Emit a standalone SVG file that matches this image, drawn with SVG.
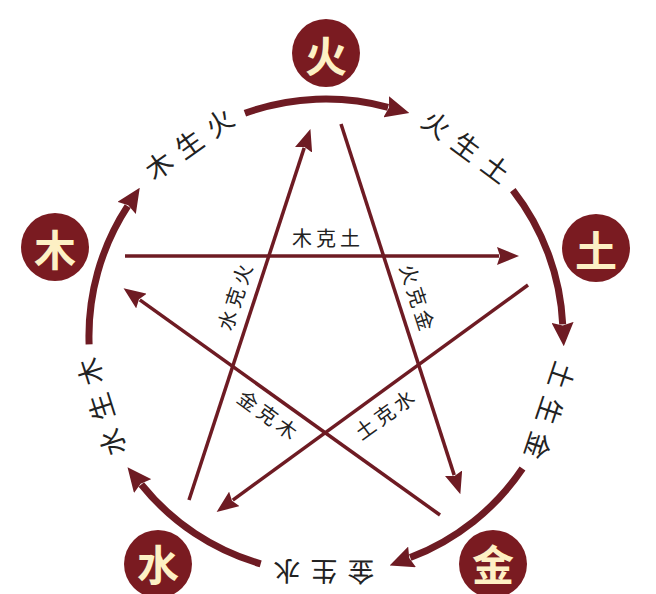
<svg xmlns="http://www.w3.org/2000/svg" width="656" height="594" viewBox="0 0 656 594">
<style>
.node circle{fill:#7a1b21}
.node text{fill:#fdf0c4;font-family:"Noto Sans CJK SC","Noto Sans CJK JP",sans-serif;font-weight:700;font-size:42px;text-anchor:middle;dominant-baseline:central}
.ring{fill:none;stroke:#6e1b23;stroke-width:7;marker-end:url(#bigArrow)}
.star{fill:none;stroke:#6e1b23;stroke-width:3.5;marker-end:url(#smallArrow)}
.lbl{fill:#222;font-family:"Noto Sans CJK SC","Noto Sans CJK JP",sans-serif;text-anchor:middle;dominant-baseline:central}
.rl{font-size:27px;letter-spacing:10px}
.sl{font-size:20px;letter-spacing:4px}
</style>
<defs>
<marker id="bigArrow" markerUnits="userSpaceOnUse" viewBox="0 0 24 22" markerWidth="24" markerHeight="22" refX="2" refY="11" orient="auto">
<path d="M0,0 L24,11 L0,22 L3,11 z" fill="#6e1b23"/>
</marker>
<marker id="smallArrow" markerUnits="userSpaceOnUse" viewBox="0 0 22 18" markerWidth="22" markerHeight="18" refX="2" refY="9" orient="auto">
<path d="M0,0 L22,9 L0,18 L3,9 z" fill="#6e1b23"/>
</marker>
</defs>
<rect width="656" height="594" fill="#ffffff"/>
<g id="connectors">
<path class="ring" d="M89.1,344.3 A237,237 0 0 1 127.7,206.2"/>
<path class="ring" d="M244.9,113.3 A237,237 0 0 1 388.1,107.3"/>
<path class="ring" d="M512.8,190.1 A237,237 0 0 1 562.7,324.4"/>
<path class="ring" d="M522.5,468.5 A237,237 0 0 1 410.2,557.6"/>
<path class="ring" d="M260.7,563.8 A237,237 0 0 1 141.3,484.5"/>
<path class="star" d="M125,256 L499,256"/>
<path class="star" d="M189,500 L304.2,147.9"/>
<path class="star" d="M341,124 L454.2,475.1"/>
<path class="star" d="M440,515 L139.8,299.9"/>
<path class="star" d="M528,285 L232.8,500.1"/>
</g>
<g id="ring-labels">
<text class="lbl rl" dx="5" transform="translate(188.4,143.1) rotate(-35.5)">木生火</text>
<text class="lbl rl" dx="5" transform="translate(467,145.5) rotate(36.5)">火生土</text>
<text class="lbl rl" dx="5" transform="translate(550.8,411.2) rotate(108.5)">土生金</text>
<text class="lbl rl" dx="5" transform="translate(323.9,573) rotate(180.5)">金生水</text>
<text class="lbl rl" dx="5" transform="translate(100,407.3) rotate(252.5)">水生木</text>
</g>
<g id="star-labels">
<text class="lbl sl" dx="2" x="326" y="237">木克土</text>
<text class="lbl sl" dx="2" transform="translate(234,297) rotate(-72)">水克火</text>
<text class="lbl sl" dx="2" transform="translate(418,297) rotate(72)">火克金</text>
<text class="lbl sl" dx="2" transform="translate(268,414) rotate(36)">金克木</text>
<text class="lbl sl" dx="2" transform="translate(384,414) rotate(-36)">土克水</text>
</g>
<g id="node-fire" class="node"><circle cx="326" cy="53" r="34"/><text x="326" y="53">火</text></g>
<g id="node-earth" class="node"><circle cx="596" cy="248" r="34"/><text x="596" y="248">土</text></g>
<g id="node-metal" class="node"><circle cx="493" cy="564" r="34"/><text x="493" y="562">金</text></g>
<g id="node-water" class="node"><circle cx="158" cy="564" r="34"/><text x="158" y="562">水</text></g>
<g id="node-wood" class="node"><circle cx="55" cy="247" r="34"/><text x="55" y="247">木</text></g>
</svg>
